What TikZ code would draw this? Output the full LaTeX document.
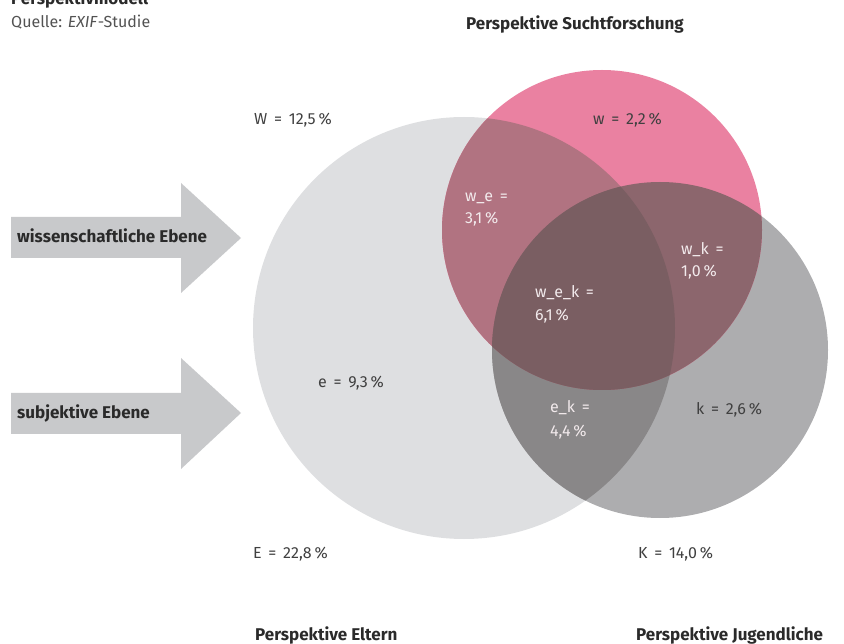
\documentclass[tikz,border=0pt]{standalone}
\usepackage{fontspec}
\setmainfont{Fira Sans}
\definecolor{cE}{HTML}{DEDFE1}
\definecolor{cK}{HTML}{ADADAF}
\definecolor{cW}{HTML}{EA81A1}
\definecolor{cWE}{HTML}{B17381}
\definecolor{cWK}{HTML}{8C666D}
\definecolor{cEK}{HTML}{898788}
\definecolor{cWEK}{HTML}{7A5E62}
\definecolor{cArrow}{HTML}{C8C9CB}
\definecolor{cText}{HTML}{404040}
\definecolor{cBold}{HTML}{2A2A2A}
\definecolor{cLight}{HTML}{F2EAEC}
\newcommand{\eqs}{\hspace{0.42em}=\hspace{0.42em}}
\newcommand{\pct}{\hspace{0.18em}\%}
\tikzset{
  lab/.style={font=\fontsize{16}{18}\selectfont, text=cText, inner sep=0pt, anchor=base west},
  wlab/.style={lab, text=cLight},
  head/.style={font=\fontsize{17}{20}\selectfont\bfseries, text=cBold, inner sep=0pt, anchor=base west},
  arrowshape/.style={fill=cArrow, draw=none}
}
\begin{document}
\begin{tikzpicture}[x=1pt,y=-1pt]
\useasboundingbox (0,0) rectangle (844,644);
% circles
\fill[cE] (464,328) circle[radius=211];
\fill[cK] (660,350) circle[radius=168];
\fill[cW] (602,230) circle[radius=160];
\begin{scope}
  \clip (464,328) circle[radius=211];
  \fill[cEK] (660,350) circle[radius=168];
  \fill[cWE] (602,230) circle[radius=160];
\end{scope}
\begin{scope}
  \clip (602,230) circle[radius=160];
  \fill[cWK] (660,350) circle[radius=168];
  \clip (464,328) circle[radius=211];
  \fill[cWEK] (660,350) circle[radius=168];
\end{scope}
% arrows
\fill[arrowshape] (11,217) -- (181,217) -- (181,183) -- (241,238) -- (181,293) -- (181,258) -- (11,258) -- cycle;
\fill[arrowshape] (11,393) -- (181,393) -- (181,358) -- (241,413) -- (181,469) -- (181,434) -- (11,434) -- cycle;
% texts
\node[head] (title) at (11,5) {Perspektivmodell};
\node[lab, text=cText!90] (src) at (11,28) {Quelle: \textit{EXIF}-Studie};
\node[head] (ps) at (466,30) {Perspektive Suchtforschung};
\node[head] (wiss) at (17,243) {wissenschaftliche Ebene};
\node[head] (subj) at (17,418) {subjektive Ebene};
\node[lab] (W) at (254,125) {W\eqs12,5\pct};
\node[lab] (w) at (593,125) {w\eqs2,2\pct};
\node[wlab] (we1) at (465,202) {w\_e\hspace{0.42em}=};
\node[wlab] (we2) at (465,224) {3,1\pct};
\node[wlab] (wk1) at (681,255) {w\_k\hspace{0.42em}=};
\node[wlab] (wk2) at (681,277) {1,0\pct};
\node[wlab] (wek1) at (535,298) {w\_e\_k\hspace{0.42em}=};
\node[wlab] (wek2) at (535,321) {6,1\pct};
\node[lab] (e) at (318,388) {e\eqs9,3\pct};
\node[wlab] (ek1) at (550,413) {e\_k\hspace{0.42em}=};
\node[wlab] (ek2) at (550,436) {4,4\pct};
\node[lab] (k) at (696,415) {k\eqs2,6\pct};
\node[lab] (E) at (253,558) {E\eqs22,8\pct};
\node[lab] (K) at (638,558) {K\eqs14,0\pct};
\node[head] (pe) at (255,640) {Perspektive Eltern};
\node[head] (pj) at (636,640) {Perspektive Jugendliche};
\end{tikzpicture}
\end{document}
